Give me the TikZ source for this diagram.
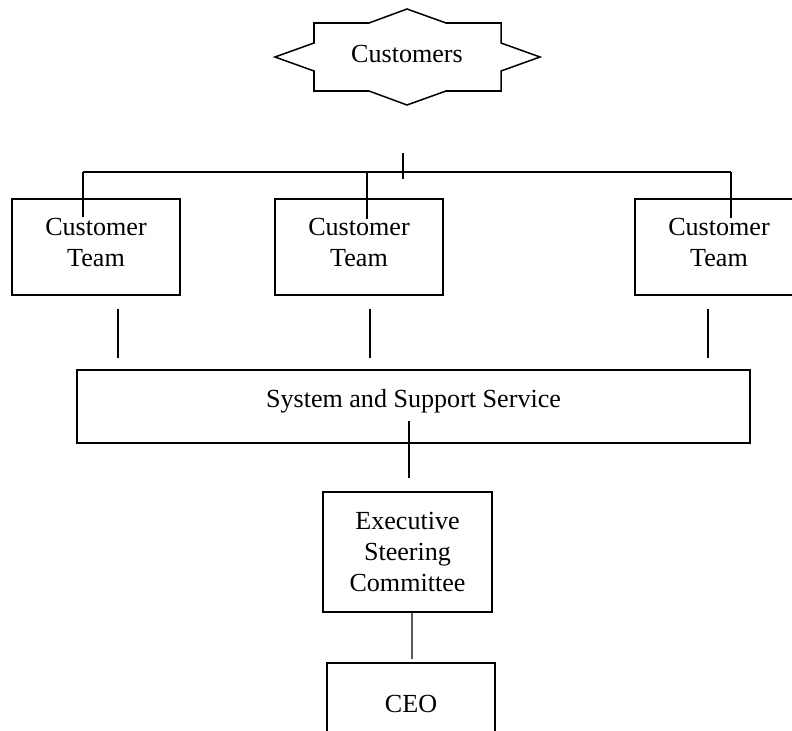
\documentclass[tikz,border=0pt]{standalone}
\usepackage{fontspec}
\setmainfont{Liberation Serif}
\usetikzlibrary{calc}
\tikzset{
    org-box/.style = {draw, line width=0.7pt, rectangle, align=center, inner sep=0pt, font=\fontsize{12}{14.3}\selectfont},
    team-box/.style = {org-box, minimum width=77.3pt, minimum height=44.2pt, text depth=4.6pt},
    wide-box/.style = {org-box, minimum width=309.6pt, minimum height=33.6pt, text depth=7.2pt},
    exec-box/.style = {org-box, minimum width=77.7pt, minimum height=55.2pt},
    plain-text/.style = {inner sep=0pt, font=\fontsize{12}{14.3}\selectfont},
    link/.style = {draw, line width=0.55pt},
}

\begin{document}
\begin{tikzpicture}[x=0.46pt, y=-0.46pt]
\useasboundingbox (0,0) rectangle (792,730);

% customers banner
\draw[line width=0.7pt] (275,57) -- (314,43) -- (314,23) -- (369,23) -- (407,9) -- (446,23) -- (501,23) -- (501,43) -- (540,57) -- (501,71) -- (501,91) -- (446,91) -- (407,105) -- (369,91) -- (314,91) -- (314,71) -- cycle;
\node[plain-text] (customers) at (407,54) {Customers};

% customer teams
\node[team-box] (team1) at (96,247) {Customer\\Team};
\node[team-box] (team2) at (359,247) {Customer\\Team};
\node[team-box] (team3) at (719,247) {Customer\\Team};

% bus over the teams
\coordinate (bus-left) at (83,172);
\coordinate (bus-mid) at (367,172);
\coordinate (bus-right) at (731,172);
\coordinate (bus-tick) at (403,153);
\draw[link] (bus-left) -- (bus-right);
\draw[link] (bus-tick) -- ++(0,26);
\draw[link] (bus-left) -- ($(team1.north)+(-13,19)$);
\draw[link] (bus-mid) -- ($(team2.north)+(8,21)$);
\draw[link] (bus-right) -- ($(team3.north)+(12,20)$);

% teams to support service
\draw[link] ($(team1.south)+(22,13)$) -- ++(0,49);
\draw[link] ($(team2.south)+(11,13)$) -- ++(0,49);
\draw[link] ($(team3.south)+(-11,13)$) -- ++(0,49);

\node[wide-box] (system) at (413.5,406.5) {System and Support Service};
\node[exec-box] (exec) at (407.5,552) {Executive\\Steering\\Committee};
\draw[link] ($(exec.north)+(1.5,-13)$) -- ++(0,-57);

\node[team-box, text depth=6.4pt] (ceo) at (411,711) {CEO};
\draw[link] ($(exec.south)+(4.5,0)$) -- ($(ceo.north)+(1,-3)$);
\end{tikzpicture}
\end{document}
